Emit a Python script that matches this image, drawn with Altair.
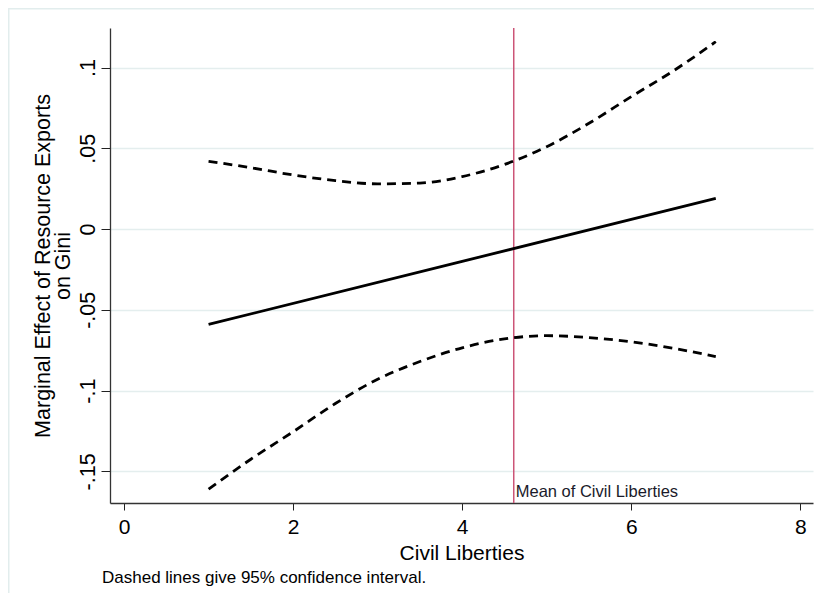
import altair as alt
import pandas as pd

# ---- data ----
ci_x = [1.0, 1.5, 2.0, 2.5, 3.0, 3.5, 4.0, 4.5, 5.0, 5.5, 6.0, 6.5, 7.0]
ci_upper = [0.042, 0.038, 0.0335, 0.030, 0.028, 0.0285, 0.0325, 0.040, 0.051, 0.0655, 0.082, 0.098, 0.116]
ci_lower = [-0.161, -0.1425, -0.1255, -0.108, -0.093, -0.082, -0.0735, -0.068, -0.066, -0.0672, -0.0698, -0.0738, -0.079]
effect_x = [1.0, 4.0, 7.0]
effect_y = [-0.059, -0.020, 0.019]
mean_civil = [4.61]
mean_label = ["Mean of Civil Liberties"]
note_text = ["Dashed lines give 95% confidence interval."]
x_ticks = [0, 2, 4, 6, 8]
y_ticks = [-0.15, -0.1, -0.05, 0, 0.05, 0.1]
x_title = "Civil Liberties"
y_title = ["Marginal Effect of Resource Exports", "on Gini"]

FONT = "Liberation Sans, Arial, sans-serif"

ci_df = pd.DataFrame({
    "x": ci_x + ci_x,
    "y": ci_upper + ci_lower,
    "bound": ["upper"] * len(ci_x) + ["lower"] * len(ci_x),
})
eff_df = pd.DataFrame({"x": effect_x, "y": effect_y})
mean_df = pd.DataFrame({"x": mean_civil, "label": mean_label})
note_df = pd.DataFrame({"label": note_text})
frame_df = pd.DataFrame({"k": [0]})

xscale = alt.Scale(domain=[-0.166, 8.15], nice=False, zero=False)
yscale = alt.Scale(domain=[-0.1696, 0.1245], nice=False, zero=False)

x_axis = alt.Axis(
    values=x_ticks, title=x_title, grid=False, tickSize=7, tickColor="#222",
    domainColor="#333", domainWidth=1.3, labelPadding=6, labelFontSize=21,
    labelColor="#000", labelFlush=False, titleFontSize=21, titleColor="#000",
    titleFontWeight="normal", titleY=56, titleBaseline="alphabetic",
    labelFont=FONT, titleFont=FONT,
)
y_axis = alt.Axis(
    values=y_ticks, title=y_title, grid=True, gridColor="#e4eeee", gridWidth=1.6,
    tickSize=9, tickColor="#222", domainColor="#333", domainWidth=1.3,
    labelAngle=270, labelAlign="center", labelBaseline="middle", labelPadding=13,
    labelFontSize=21.5, labelColor="#000", labelFlush=False,
    labelExpr="datum.value == 0 ? '0' : (datum.value < 0 ? '-' : '') + replace(format(abs(datum.value), '.2~f'), '0.', '.')",
    titleAngle=270, titleAlign="center", titleBaseline="top", titleX=-78, titleY=237.5,
    titleLineHeight=20, titleFontSize=21.5, titleColor="#000", titleFontWeight="normal",
    labelFont=FONT, titleFont=FONT,
)

X = alt.X("x:Q", scale=xscale, axis=x_axis)
Y = alt.Y("y:Q", scale=yscale, axis=y_axis)

effect = alt.Chart(eff_df).mark_line(color="black", strokeWidth=2.8).encode(x=X, y=Y)

ci = alt.Chart(ci_df).mark_line(
    color="black", strokeWidth=2.8, strokeDash=[9, 6], interpolate="monotone"
).encode(x=X, y=Y, detail="bound:N")

mean_rule = alt.Chart(mean_df).mark_rule(color="#cc5577", strokeWidth=1.5).encode(x=X)

mean_text = alt.Chart(mean_df).mark_text(
    align="left", baseline="alphabetic", dx=2, fontSize=16.5, font=FONT, color="#1a1a2a"
).encode(x=X, y=alt.value(469), text="label:N")

note = alt.Chart(note_df).mark_text(
    align="left", baseline="alphabetic", fontSize=17, font=FONT, color="#000"
).encode(x=alt.value(-8), y=alt.value(555), text="label:N")

frame_left = alt.Chart(frame_df).mark_rule(color="#e2eded", strokeWidth=2).encode(
    x=alt.value(-101.5), y=alt.value(-20), y2=alt.value(600)
)
frame_top = alt.Chart(frame_df).mark_rule(color="#e2eded", strokeWidth=2).encode(
    x=alt.value(-102), x2=alt.value(720), y=alt.value(-19.5)
)

chart = alt.layer(
    frame_left, frame_top, mean_rule, effect, ci, mean_text, note
).properties(
    width=703,
    height=475,
    autosize=alt.AutoSizeParams(type="none"),
    padding={"left": 102, "top": 20, "right": 1, "bottom": 90},
    background="white",
).configure_view(strokeOpacity=0)

chart.save("out.html", embed_options={"renderer": "svg", "actions": False})
